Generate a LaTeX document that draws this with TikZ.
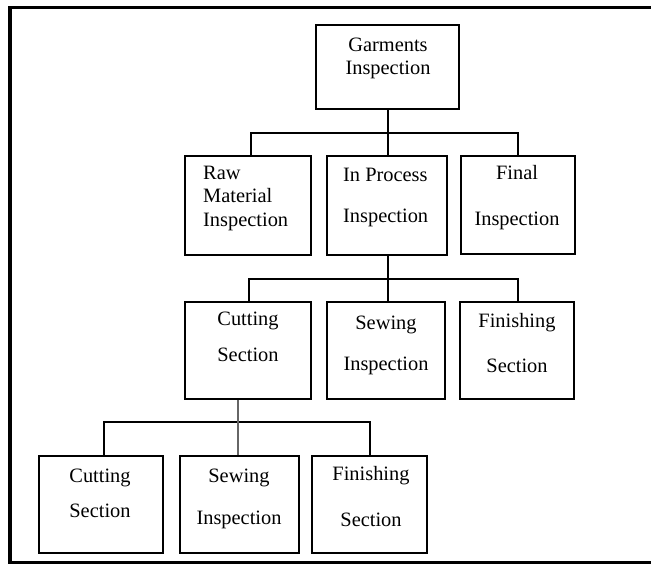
\documentclass[tikz,border=0pt]{standalone}
\usepackage{fontspec}
\setmainfont{Liberation Serif}
\begin{document}
\begin{tikzpicture}[x=1pt,y=-1pt,
  box/.style={draw=black,line width=1.8pt,rectangle,inner sep=0pt},
  link/.style={draw=black,line width=2pt},
  txt/.style={anchor=base,inner sep=0pt,font=\fontsize{20.4}{24}\selectfont},
  ltxt/.style={anchor=base west,inner sep=0pt,font=\fontsize{20.4}{24}\selectfont}]
\useasboundingbox (0,0) rectangle (651,564);
\clip (0,0) rectangle (651,564);
% frame
\draw[line width=3.8pt] (680,7.5) -- (10,7.5) -- (10,562.5) -- (680,562.5);
% boxes
\newcommand{\bx}[5]{\node[box,minimum width={(#4)-(#2)},minimum height={(#5)-(#3)}] (#1) at ({((#2)+(#4))/2},{((#3)+(#5))/2}) {};}
\bx{g}{316}{25}{459}{109}
\bx{raw}{185}{156}{311}{255}
\bx{inp}{327}{156}{447}{255}
\bx{fin}{461}{156}{575}{254}
\bx{cutA}{185}{302}{311}{399}
\bx{sewA}{327}{302}{445}{399}
\bx{finA}{460}{302}{574}{399}
\bx{cutB}{39}{456}{163}{553}
\bx{sewB}{180}{456}{299}{553}
\bx{finB}{312}{456}{427}{553}
% texts
\node[txt] (t1) at (388,52) {Garments};
\node[txt] (t2) at (388,75) {Inspection};
\node[ltxt] (t3) at (203,180) {Raw};
\node[ltxt] (t4) at (203,203) {Material};
\node[ltxt] (t5) at (203,227) {Inspection};
\node[ltxt] (t6) at (343,182) {In Process};
\node[ltxt] (t7) at (343,223) {Inspection};
\node[txt] (t8) at (517,180) {Final};
\node[txt] (t9) at (517,226) {Inspection};
\node[txt] (t10) at (248,326) {Cutting};
\node[txt] (t11) at (248,361) {Section};
\node[txt] (t12) at (386,329) {Sewing};
\node[txt] (t13) at (386,370) {Inspection};
\node[txt] (t14) at (517,327) {Finishing};
\node[txt] (t15) at (517,372) {Section};
\node[txt] (t16) at (100,482) {Cutting};
\node[txt] (t17) at (100,517) {Section};
\node[txt] (t18) at (239,482) {Sewing};
\node[txt] (t19) at (239,524) {Inspection};
\node[txt] (t20) at (371,480) {Finishing};
\node[txt] (t21) at (371,526) {Section};
% connector columns and buses
\coordinate (bus1) at (0,133);
\coordinate (bus2) at (0,279);
\coordinate (bus3) at (0,422);
\coordinate (c1) at (251,0);
\coordinate (c2) at (388,0);
\coordinate (c3) at (518,0);
\coordinate (d1) at (249,0);
\coordinate (e1) at (104,0);
\coordinate (e2) at (238,0);
\coordinate (e3) at (370,0);
% connectors
\draw[link] (g.south -| c2) -- (bus1 -| c2);
\draw[link] (raw.north -| c1) |- (bus1 -| c3) -- (fin.north -| c3);
\draw[link] (inp.north -| c2) -- (bus1 -| c2);
\draw[link] (inp.south -| c2) -- (bus2 -| c2);
\draw[link] (cutA.north -| d1) |- (bus2 -| c3) -- (finA.north -| c3);
\draw[link] (sewA.north -| c2) -- (bus2 -| c2);
\draw[link] (cutB.north -| e1) |- (bus3 -| e3) -- (finB.north -| e3);
\draw[link,draw=black!60] (sewB.north -| e2) -- (cutA.south -| e2);
\end{tikzpicture}
\end{document}
